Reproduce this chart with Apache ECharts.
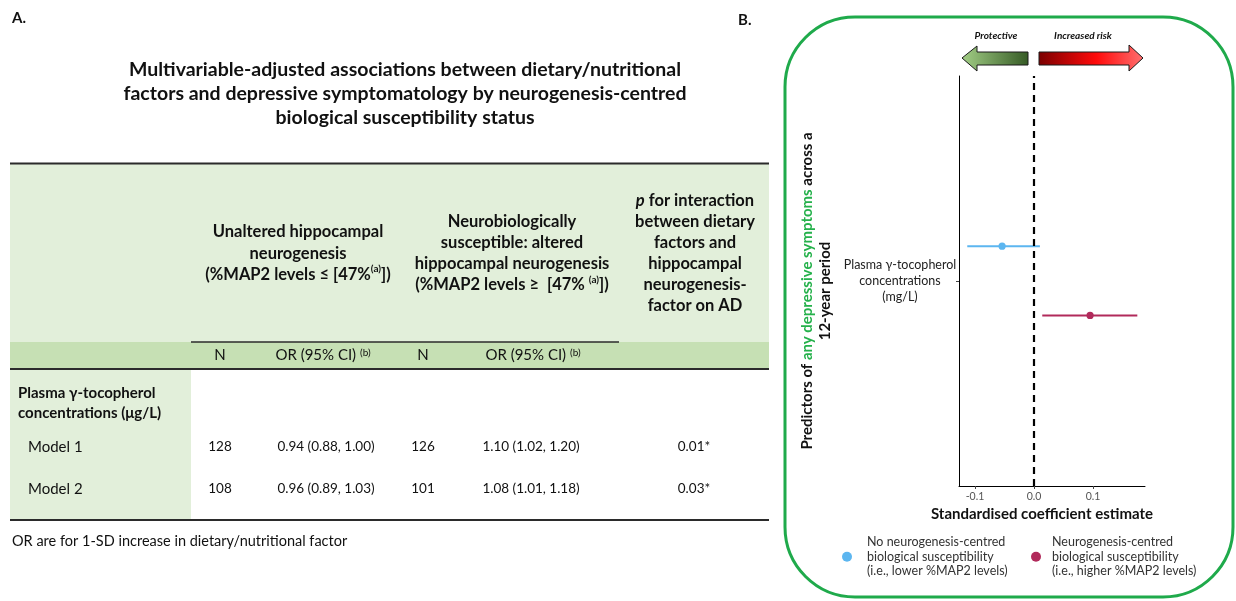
<!DOCTYPE html>
<html>
<head>
<meta charset="utf-8">
<script src="https://cdn.jsdelivr.net/npm/echarts@6/dist/echarts.min.js"></script>
<style>
html,body{margin:0;padding:0;background:#fff;}
#chart{width:1236px;height:601px;}
</style>
</head>
<body>
<div id="chart"></div>
<script>
// ---------- Panel A: table data ----------
const tableTitle = ['Multivariable-adjusted associations between dietary/nutritional',
  'factors and depressive symptomatology by neurogenesis-centred',
  'biological susceptibility status'];
const exposureLabel = ['Plasma \u03b3-tocopherol', 'concentrations (\u03bcg/L)'];
const modelNames = ['Model 1', 'Model 2'];
const nUnaltered = [128, 108];
const orUnaltered = [0.94, 0.96];
const loUnaltered = [0.88, 0.89];
const hiUnaltered = [1.00, 1.03];
const nSusceptible = [126, 101];
const orSusceptible = [1.10, 1.08];
const loSusceptible = [1.02, 1.01];
const hiSusceptible = [1.20, 1.18];
const pInteraction = ['0.01*', '0.03*'];
const footnote = 'OR are for 1-SD increase in dietary/nutritional factor';

// ---------- Panel B: forest plot data ----------
const forestCategories = ['Plasma \u03b3-tocopherol\nconcentrations\n(mg/L)'];
const seriesNames = ['No neurogenesis-centred\nbiological susceptibility\n(i.e., lower %MAP2 levels)',
  'Neurogenesis-centred\nbiological susceptibility\n(i.e., higher %MAP2 levels)'];
const estNo = [-0.054], lowNo = [-0.113], highNo = [0.010];
const estYes = [0.095], lowYes = [0.014], highYes = [0.175];
const xTickValues = [-0.1, 0.0, 0.1];

const FONT = 'Lato, "Open Sans", sans-serif';
const INK = '#111';
const LIGHT_GREEN = '#e2efda';
const MID_GREEN = '#c6e0b4';
const fmt = v => v.toFixed(2);

function txt(x, y, text, o) {
  o = o || {};
  return {
    type: 'text', x: x, y: y, silent: true,
    style: Object.assign({
      text: text, fill: INK, fontFamily: FONT,
      fontSize: o.fontSize || 13, fontWeight: o.fontWeight || 'normal',
      fontStyle: o.fontStyle || 'normal',
      textAlign: o.align || 'left', align: o.align || 'left',
      textVerticalAlign: o.va || 'middle', verticalAlign: o.va || 'middle',
      lineHeight: o.lineHeight || undefined
    }, o.extra || {})
  };
}
function rect(x, y, w, h, fill) {
  return { type: 'rect', silent: true, shape: { x: x, y: y, width: w, height: h }, style: { fill: fill } };
}
function hline(x1, x2, y, w) {
  return { type: 'line', silent: true, shape: { x1: x1, y1: y, x2: x2, y2: y }, style: { stroke: '#2b2b2b', lineWidth: w } };
}

const sup = { fontSize: 10, fontWeight: 'bold', verticalAlign: 'top', fontFamily: FONT, fill: INK };
const supN = { fontSize: 10, verticalAlign: 'top', fontFamily: FONT, fill: INK };

const graphics = [];
// Panel labels
graphics.push(txt(12, 18, 'A.', { fontWeight: 'bold', fontSize: 15 }));
graphics.push(txt(738, 20, 'B.', { fontWeight: 'bold', fontSize: 15 }));
// Title
graphics.push(txt(405, 94, tableTitle.join('\n'), { fontWeight: 'bold', fontSize: 19.5, align: 'center', lineHeight: 24 }));

// Table backgrounds
graphics.push(rect(10, 164, 759, 178, LIGHT_GREEN));
graphics.push(rect(10, 342, 759, 27, MID_GREEN));
graphics.push(rect(10, 369, 181, 151, LIGHT_GREEN));
// Rules
graphics.push(hline(10, 769, 163.5, 2));
graphics.push(hline(191, 619, 342, 1.5));
graphics.push(hline(10, 769, 369, 2));
graphics.push(hline(10, 769, 520, 2));

// Header texts
const headBold = { fontSize: 16.5, fontWeight: 'bold', fontFamily: FONT, fill: INK };
graphics.push(txt(298, 253.5, 'Unaltered hippocampal\nneurogenesis\n(%MAP2 levels \u2264 [47%{s|(a)}])',
  { fontWeight: 'bold', fontSize: 16.5, align: 'center', lineHeight: 21.5, extra: { rich: { s: sup } } }));
graphics.push(txt(512, 253.5, 'Neurobiologically\nsusceptible: altered\nhippocampal neurogenesis\n(%MAP2 levels \u2265  [47% {s|(a)}])',
  { fontWeight: 'bold', fontSize: 16.5, align: 'center', lineHeight: 21, extra: { rich: { s: sup } } }));
graphics.push(txt(695, 253.5, '{i|p} for interaction\nbetween dietary\nfactors and\nhippocampal\nneurogenesis-\nfactor on AD',
  { fontWeight: 'bold', fontSize: 16.5, align: 'center', lineHeight: 21,
    extra: { rich: { i: Object.assign({}, headBold, { fontStyle: 'italic' }) } } }));
// Sub-header
graphics.push(txt(220, 355, 'N', { fontSize: 15, align: 'center' }));
graphics.push(txt(323, 355, 'OR (95% CI) {s|(b)}', { fontSize: 15, align: 'center', extra: { rich: { s: supN } } }));
graphics.push(txt(423, 355, 'N', { fontSize: 15, align: 'center' }));
graphics.push(txt(533, 355, 'OR (95% CI) {s|(b)}', { fontSize: 15, align: 'center', extra: { rich: { s: supN } } }));

// Body
graphics.push(txt(18, 403, exposureLabel.join('\n'), { fontWeight: 'bold', fontSize: 15, lineHeight: 20 }));
const rowY = [447, 489];
modelNames.forEach((m, i) => {
  graphics.push(txt(28, rowY[i], m, { fontSize: 15 }));
  graphics.push(txt(220, rowY[i], String(nUnaltered[i]), { fontSize: 13.5, align: 'center' }));
  graphics.push(txt(326, rowY[i], fmt(orUnaltered[i]) + ' (' + fmt(loUnaltered[i]) + ', ' + fmt(hiUnaltered[i]) + ')', { fontSize: 13.5, align: 'center' }));
  graphics.push(txt(423, rowY[i], String(nSusceptible[i]), { fontSize: 13.5, align: 'center' }));
  graphics.push(txt(531, rowY[i], fmt(orSusceptible[i]) + ' (' + fmt(loSusceptible[i]) + ', ' + fmt(hiSusceptible[i]) + ')', { fontSize: 13.5, align: 'center' }));
  graphics.push(txt(694, rowY[i], pInteraction[i], { fontSize: 13.5, align: 'center' }));
});
graphics.push(txt(12, 541, footnote, { fontSize: 14.5 }));

// Panel B frame
graphics.push({ type: 'rect', silent: true, shape: { x: 785, y: 17, width: 448, height: 580, r: 70 },
  style: { fill: 'none', stroke: '#1faa4b', lineWidth: 3 } });
// Direction arrows
graphics.push({ type: 'polygon', silent: true,
  shape: { points: [[962, 58], [977, 46], [977, 52], [1028, 52], [1028, 65], [977, 65], [977, 71]] },
  style: { stroke: '#1a1a1a', lineWidth: 1,
    fill: { type: 'linear', x: 0, y: 0, x2: 1, y2: 0, colorStops: [{ offset: 0, color: '#a3cf86' }, { offset: 1, color: '#355a25' }] } } });
graphics.push({ type: 'polygon', silent: true,
  shape: { points: [[1039, 52], [1129, 52], [1129, 45], [1143, 58], [1129, 71], [1129, 65], [1039, 65]] },
  style: { stroke: '#1a1a1a', lineWidth: 1,
    fill: { type: 'linear', x: 0, y: 0, x2: 1, y2: 0, colorStops: [{ offset: 0, color: '#7a0000' }, { offset: 0.55, color: '#ff0a0a' }, { offset: 1, color: '#ff7070' }] } } });
graphics.push(txt(996, 36, 'Protective', { fontSize: 10, fontWeight: 'bold', fontStyle: 'italic', align: 'center' }));
graphics.push(txt(1083, 36, 'Increased risk', { fontSize: 10, fontWeight: 'bold', fontStyle: 'italic', align: 'center' }));

// ---------- Forest series ----------
function forestSeries(name, color, est, low, high, dodge, withRef) {
  const s = {
    type: 'custom', name: name,
    itemStyle: { color: color },
    encode: { x: [1, 2, 3], y: 0 },
    data: est.map((v, i) => [i, v, low[i], high[i]]),
    renderItem: function (params, api) {
      const c = api.value(0);
      const pe = api.coord([api.value(1), c]);
      const pl = api.coord([api.value(2), c]);
      const ph = api.coord([api.value(3), c]);
      const band = api.size([0, 1])[1];
      const dy = dodge * band;
      return {
        type: 'group',
        children: [
          { type: 'line', shape: { x1: pl[0], y1: pe[1] + dy, x2: ph[0], y2: pe[1] + dy }, style: { stroke: color, lineWidth: 2 } },
          { type: 'circle', shape: { cx: pe[0], cy: pe[1] + dy, r: 3.6 }, style: { fill: color } }
        ]
      };
    }
  };
  if (withRef) {
    s.markLine = { silent: true, symbol: 'none', label: { show: false },
      lineStyle: { type: [7, 5], color: '#000', width: 2.2 }, data: [{ xAxis: 0 }] };
  }
  return s;
}

const legendText = { fontFamily: FONT, fontSize: 12.5, color: '#333', lineHeight: 14.5 };

const option = {
  animation: false,
  backgroundColor: '#fff',
  textStyle: { fontFamily: FONT },
  graphic: { elements: graphics },
  grid: { left: 959, top: 76, width: 186, height: 410, containLabel: false },
  legend: [
    { data: [seriesNames[0]], left: 842, top: 535, padding: 0, icon: 'circle', itemWidth: 10, itemHeight: 10,
      textStyle: Object.assign({ padding: [0, 0, 0, 10] }, legendText), selectedMode: false },
    { data: [seriesNames[1]], left: 1031, top: 535, padding: 0, icon: 'circle', itemWidth: 10, itemHeight: 10,
      textStyle: Object.assign({ padding: [0, 0, 0, 6] }, legendText), selectedMode: false }
  ],
  xAxis: {
    type: 'value', min: -0.127, max: 0.188,
    splitLine: { show: false },
    axisLine: { show: true, onZero: false, lineStyle: { color: '#000', width: 1 } },
    axisTick: { show: true, customValues: xTickValues, length: 3, lineStyle: { color: '#444' } },
    axisLabel: { customValues: xTickValues, formatter: v => v.toFixed(1), color: '#555', fontSize: 10.5, margin: 5, fontFamily: FONT },
    name: 'Standardised coefficient estimate', nameLocation: 'middle', nameGap: 21,
    nameTextStyle: { fontSize: 15, fontWeight: 'bold', color: INK, fontFamily: FONT, padding: [0, 20, 0, 0] }
  },
  yAxis: {
    type: 'category', data: forestCategories,
    axisLine: { show: true, onZero: false, lineStyle: { color: '#000', width: 1 } },
    axisTick: { show: true, alignWithLabel: true, length: 3, lineStyle: { color: '#444' } },
    axisLabel: { align: 'center', margin: 59, fontSize: 12.5, lineHeight: 16, color: '#222', fontFamily: FONT },
    splitLine: { show: false },
    name: 'Predictors of {g|any depressive symptoms} across a\n12-year period',
    nameLocation: 'middle', nameRotate: 90, nameGap: 125,
    nameTextStyle: { fontSize: 15, fontWeight: 'bold', color: INK, lineHeight: 18, fontFamily: FONT,
      padding: [0, 20, 0, 0],
      rich: { g: { fontSize: 15, fontWeight: 'bold', color: '#25b14b', fontFamily: FONT } } }
  },
  series: [
    forestSeries(seriesNames[0], '#5cb6f0', estNo, lowNo, highNo, -0.085, true),
    forestSeries(seriesNames[1], '#b12a5b', estYes, lowYes, highYes, 0.084, false)
  ]
};

const chart = echarts.init(document.getElementById('chart'), null, { renderer: 'canvas' });
chart.setOption(option);
</script>
</body>
</html>
